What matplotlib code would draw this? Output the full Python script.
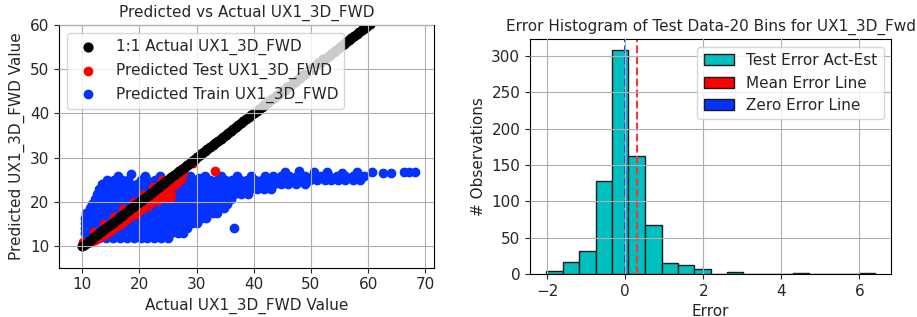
import numpy as np
import matplotlib.pyplot as plt
import matplotlib.patches as mpatches

# 1:1 line - actual values
actual = [9.9, 10.3, 10.8, 11.2, 11.7, 12.1, 12.6, 13.0, 13.5, 13.9, 14.4, 14.8, 15.3, 15.7,
          16.2, 16.6, 17.1, 17.5, 18.0, 18.4, 18.9, 19.3, 19.8, 20.2, 20.7, 21.1, 21.6, 22.0,
          22.5, 22.9, 23.4, 23.8, 24.3, 24.7, 25.2, 25.6, 26.1, 26.5, 27.0, 27.4, 27.9, 28.3,
          28.8, 29.2, 29.7, 30.1, 30.6, 31.0, 31.5, 31.9, 32.4, 32.8, 33.3, 33.7, 34.2, 34.6,
          35.1, 35.5, 36.0, 36.4, 36.9, 37.3, 37.8, 38.2, 38.7, 39.1, 39.6, 40.0, 40.5, 40.9,
          41.4, 41.8, 42.3, 42.7, 43.2, 43.6, 44.1, 44.5, 45.0, 45.4, 45.9, 46.3, 46.8, 47.2,
          47.7, 48.1, 48.6, 49.0, 49.5, 49.9, 50.4, 50.8, 51.3, 51.7, 52.2, 52.6, 53.1, 53.5,
          54.0, 54.4, 54.9, 55.3, 55.8, 56.2, 56.7, 57.1, 57.6, 58.0, 58.5, 58.9, 59.4, 59.8, 60.3]

# predicted test points (actual, predicted)
test_x = [10.1, 10.6, 11.5, 12.2, 12.8, 13.5, 14.1, 14.8, 15.4, 16.0, 16.7, 17.3, 17.9, 18.5,
          19.2, 19.8, 20.4, 21.0, 21.6, 22.2, 22.9, 23.5, 24.1, 24.8, 25.4, 26.0, 26.6, 27.3,
          25.3, 25.6, 25.1, 24.3, 23.0, 21.5, 27.6, 28.5, 29.3, 33.2, 12.0, 13.9, 15.6, 17.2,
          19.0, 20.6, 22.4, 24.0]
test_y = [11.0, 10.9, 11.0, 11.4, 11.8, 12.3, 12.8, 13.4, 13.9, 14.5, 15.0, 15.6, 16.1, 16.7,
          17.3, 17.8, 18.4, 19.0, 19.5, 20.1, 20.7, 21.3, 21.8, 22.5, 23.1, 23.7, 24.3, 25.1,
          20.9, 21.6, 22.4, 21.0, 20.2, 19.0, 26.5, 28.3, 28.8, 27.0, 13.1, 15.0, 16.6, 18.3,
          20.0, 21.6, 23.3, 24.9]

# predicted train points, read row by row from the cloud
train_row_y = [11.9, 13.0, 14.1, 15.2, 16.3, 17.4, 18.5, 19.6, 20.7, 21.8, 22.9, 24.0, 25.0, 25.9]
train_row_x = [
    [10.6, 11.8, 13.0, 14.2, 15.4, 16.6, 17.8, 19.0, 20.2, 21.4, 22.6, 23.8, 25.0],
    [10.5, 11.2, 12.4, 13.6, 14.8, 16.0, 17.2, 18.4, 19.6, 20.8, 22.0, 23.2, 24.4, 25.6, 26.8, 27.6],
    [10.5, 11.8, 13.0, 14.2, 15.4, 16.6, 17.8, 19.0, 20.2, 21.4, 22.6, 23.8, 25.0, 26.2, 27.4, 28.4],
    [10.5, 11.2, 12.4, 13.6, 14.8, 16.0, 17.2, 18.4, 19.6, 20.8, 22.0, 23.2, 24.4, 25.6, 26.8, 28.0,
     29.2, 30.0],
    [10.5, 11.8, 13.0, 14.2, 15.4, 16.6, 17.8, 19.0, 20.2, 21.4, 22.6, 23.8, 25.0, 26.2, 27.4, 28.6,
     29.8, 30.9, 31.6],
    [10.6, 11.2, 12.4, 13.6, 14.8, 16.0, 17.2, 18.4, 19.6, 20.8, 22.0, 23.2, 24.4, 25.6, 26.8, 28.0,
     29.2, 30.4, 31.6, 32.8, 33.6],
    [11.3, 12.0, 13.2, 14.4, 15.6, 16.8, 18.0, 19.2, 20.4, 21.6, 22.8, 24.0, 25.2, 26.4, 27.6, 28.8,
     30.0, 31.2, 32.4, 33.6, 34.8],
    [11.8, 12.6, 13.8, 15.0, 16.2, 17.4, 18.6, 19.8, 21.0, 22.2, 23.4, 24.6, 25.8, 27.0, 28.2, 29.4,
     30.6, 31.8, 33.0, 34.2, 35.4],
    [12.2, 13.2, 14.4, 15.6, 16.8, 18.0, 19.2, 20.4, 21.6, 22.8, 24.0, 25.2, 26.4, 27.6, 28.8, 30.0,
     31.2, 32.4, 33.6, 34.8, 36.0],
    [12.6, 13.8, 15.0, 16.2, 17.4, 18.6, 19.8, 21.0, 22.2, 23.4, 24.6, 25.8, 27.0, 28.2, 29.4, 30.6,
     31.8, 33.0, 34.2, 35.4, 36.6, 37.8, 39.0],
    [13.0, 14.2, 15.4, 16.6, 17.8, 19.0, 20.2, 21.4, 22.6, 23.8, 25.0, 26.2, 27.4, 28.6, 29.8, 31.0,
     32.2, 33.4, 34.6, 35.8, 37.0, 38.2, 39.4, 40.6, 41.8, 43.0],
    [13.5, 14.8, 16.0, 17.2, 18.4, 19.6, 20.8, 22.0, 23.2, 24.4, 25.6, 26.8, 28.0, 29.2, 30.4, 31.6,
     32.8, 34.0, 35.2, 36.4, 37.6, 38.8, 40.0, 41.2, 42.4, 43.6, 44.8, 46.0, 47.4, 49.0],
    [14.4, 15.6, 17.0, 18.0, 20.2, 21.4, 22.8, 24.0, 25.6, 27.0, 28.4, 29.6, 31.0, 32.4, 33.6, 35.0,
     36.2, 37.6, 38.8, 40.2, 41.4, 42.6, 43.8, 45.0, 46.2, 47.4, 48.6, 49.8, 51.0, 52.4, 53.6, 54.8,
     56.0, 57.4, 58.6],
    [16.2, 21.0, 23.6, 26.0, 28.8, 31.4, 34.2, 37.0, 39.6, 42.0, 43.4, 44.8, 46.2, 47.6, 49.0, 50.4,
     51.8, 53.2, 54.6, 56.0, 57.4, 59.3],
]
# loose train points outside the rows
extra_x = [18.5, 60.7, 62.7, 64.0, 66.2, 67.1, 68.2, 36.6, 45.5, 48.0, 50.5, 52.8, 55.5, 58.0,
           38.5, 41.0, 44.2, 30.5, 33.0, 35.8]
extra_y = [26.3, 26.7, 26.6, 26.5, 26.7, 26.7, 26.7, 14.1, 26.8, 26.9, 26.7, 26.8, 26.6, 26.8,
           23.4, 23.6, 24.5, 25.5, 24.6, 23.5]

# error histogram of the test data
bin_edges = [-2.02, -1.60, -1.18, -0.76, -0.34, 0.08, 0.50, 0.93, 1.35, 1.77, 2.19,
             2.61, 3.03, 3.45, 3.87, 4.29, 4.71, 5.14, 5.56, 5.98, 6.40]
bin_counts = [4, 16, 31, 128, 308, 163, 67, 15, 13, 7, 0, 3, 0, 0, 0, 1, 0, 0, 0, 1]
mean_error = 0.29

train_x = []
train_y = []
for yy, row in zip(train_row_y, train_row_x):
    train_x += row
    train_y += [yy] * len(row)
train_x += extra_x
train_y += extra_y

tc = '#262626'
plt.rcParams['font.size'] = 11
plt.rcParams['text.color'] = tc
plt.rcParams['axes.labelcolor'] = tc
plt.rcParams['xtick.color'] = tc
plt.rcParams['ytick.color'] = tc

fig = plt.figure(figsize=(9.17, 3.17), dpi=100)
ax1 = fig.add_axes([0.0647, 0.1555, 0.409, 0.7656])
ax2 = fig.add_axes([0.578, 0.1356, 0.394, 0.741])

# left: predicted vs actual
blue = '#0433ff'
s_train = ax1.scatter(train_x, train_y, s=36, color=blue, zorder=1.1,
                      label='Predicted Train UX1_3D_FWD')
s_test = ax1.scatter(test_x, test_y, s=36, color='#ff0000', zorder=1.2,
                     label='Predicted Test UX1_3D_FWD')
s_one = ax1.scatter(actual, actual, s=40, color='black', zorder=1.3,
                    label='1:1 Actual UX1_3D_FWD')
ax1.set_xlim(6.0, 71.6)
ax1.set_ylim(5.1, 60)
ax1.set_yticks([10, 20, 30, 40, 50, 60])
ax1.set_axisbelow(False)
ax1.grid(True, color='#b0b0b0', linewidth=0.8)
ax1.set_title('Predicted vs Actual UX1_3D_FWD', fontsize=11)
ax1.set_xlabel('Actual UX1_3D_FWD Value')
ax1.set_ylabel('Predicted UX1_3D_FWD Value')
ax1.legend(handles=[s_one, s_test, s_train], loc='upper left')

# right: error histogram
centers = [(a + b) / 2 for a, b in zip(bin_edges[:-1], bin_edges[1:])]
ax2.hist(centers, bins=bin_edges, weights=bin_counts, color='c', edgecolor='#1a1a1a',
         linewidth=1.0)
ax2.axvline(mean_error, color='#ff3333', linestyle='--', linewidth=1.5)
ax2.axvline(0, color='#2244ff', linestyle='--', linewidth=1.5)
ax2.set_axisbelow(False)
ax2.grid(True, color='#b0b0b0', linewidth=0.8)
ax2.set_title('Error Histogram of Test Data-20 Bins for UX1_3D_Fwd', fontsize=11)
ax2.set_xlabel('Error')
ax2.set_ylabel('# Observations')
handles = [mpatches.Patch(facecolor='c', edgecolor='#1a1a1a', label='Test Error Act-Est'),
           mpatches.Patch(facecolor='red', edgecolor='#1a1a1a', label='Mean Error Line'),
           mpatches.Patch(facecolor=blue, edgecolor='#1a1a1a', label='Zero Error Line')]
ax2.legend(handles=handles, loc='upper right')

fig.savefig('out.png', dpi=100)
